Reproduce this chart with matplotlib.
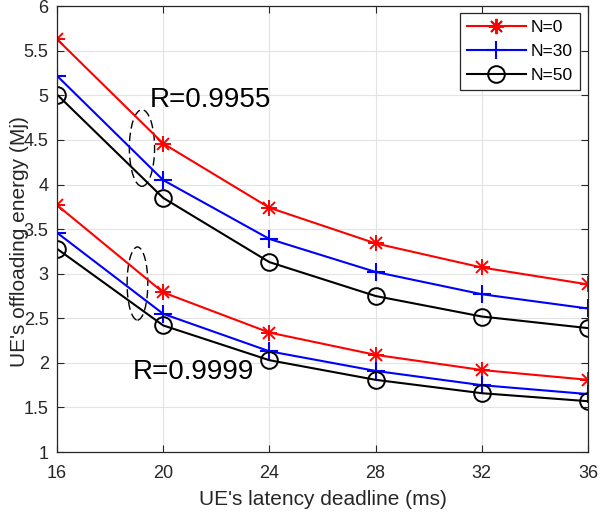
import matplotlib
matplotlib.use("Agg")
import matplotlib.pyplot as plt
from matplotlib.patches import Ellipse

plt.rcParams['font.family'] = ['Liberation Sans', 'DejaVu Sans']

deadline = [16, 20, 24, 28, 32, 36]
series_labels = ["N=0", "N=30", "N=50"]

# R = 0.9955 group
hi_n0 = [5.63, 4.46, 3.74, 3.34, 3.07, 2.88]
hi_n30 = [5.22, 4.05, 3.39, 3.02, 2.77, 2.61]
hi_n50 = [5.01, 3.85, 3.13, 2.75, 2.52, 2.39]

# R = 0.9999 group
lo_n0 = [3.77, 2.79, 2.34, 2.09, 1.92, 1.81]
lo_n30 = [3.46, 2.55, 2.13, 1.91, 1.75, 1.65]
lo_n50 = [3.28, 2.42, 2.03, 1.81, 1.66, 1.57]

xticks = [16, 20, 24, 28, 32, 36]
yticks = [1, 1.5, 2, 2.5, 3, 3.5, 4, 4.5, 5, 5.5, 6]

fig = plt.figure(figsize=(6.0, 5.19), dpi=100)
ax = fig.add_axes([0.095, 0.129, 0.885, 0.859])

lw = 1.5
dark = "#262626"

for grp in [(hi_n0, hi_n30, hi_n50), (lo_n0, lo_n30, lo_n50)]:
    first = grp[0] is hi_n0
    ax.plot(deadline, grp[0], color="red", lw=lw, marker="+", ms=11, mew=1.4,
            label=series_labels[0] if first else None)
    ax.plot(deadline, grp[0], color="red", lw=0, marker="x", ms=8, mew=1.4)
    ax.plot(deadline, grp[1], color="blue", lw=lw, marker="+", ms=13, mew=1.5,
            label=series_labels[1] if first else None)
    ax.plot(deadline, grp[2], color="black", lw=lw, marker="o", ms=12, mew=1.4,
            mfc="none", label=series_labels[2] if first else None)

ax.add_patch(Ellipse((19.2, 4.41), 0.95, 0.86, fill=False, ls=(0, (6, 3)),
                     lw=1.0, ec="black"))
ax.add_patch(Ellipse((19.03, 2.89), 0.78, 0.82, fill=False, ls=(0, (6, 3)),
                     lw=1.0, ec="black"))
ax.text(19.5, 4.95, "R=0.9955", fontsize=20, va="center", ha="left")
ax.text(18.86, 1.90, "R=0.9999", fontsize=20, va="center", ha="left")

ax.set_xlim(16, 36)
ax.set_ylim(1, 6)
ax.set_xticks(xticks)
ax.set_yticks(yticks)
ax.set_yticklabels([f"{v:g}" for v in yticks])
ax.grid(True, color="#e3e3e3", lw=0.8)
ax.set_axisbelow(True)
ax.tick_params(direction="in", top=True, right=True, labelsize=13,
               colors=dark, length=5, width=0.8)
ax.tick_params(axis="x", pad=9)
ax.tick_params(axis="y", pad=6)
for s in ax.spines.values():
    s.set_color(dark)
    s.set_linewidth(0.9)

ax.set_xlabel("UE's latency deadline (ms)", fontsize=15, color=dark)
ax.set_ylabel("UE's offloading energy (Mj)", fontsize=15, color=dark)
ax.yaxis.set_label_coords(-0.053, 0.473)
ax.xaxis.set_label_coords(0.5, -0.085)

leg = ax.legend(loc="upper right", bbox_to_anchor=(0.985, 0.984),
                fontsize=12.5, fancybox=False, framealpha=1,
                edgecolor=dark, handlelength=3.4, borderaxespad=0,
                labelspacing=0.5, handletextpad=0.3, borderpad=0.4)
leg.get_frame().set_linewidth(0.9)
# eight-armed star for the N=0 legend handle
h = leg.legend_handles[0]
h.set_marker((8, 2, 0))
h.set_markersize(11)

fig.savefig("out.png", dpi=100)
